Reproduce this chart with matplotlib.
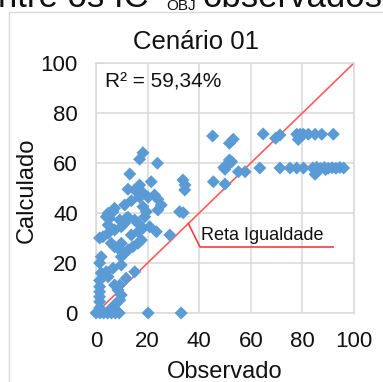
import matplotlib
matplotlib.use("Agg")
import matplotlib.pyplot as plt
from matplotlib.patches import Rectangle

plt.rcParams['font.family'] = ['Liberation Sans', 'DejaVu Sans']

title = "Cenário 01"
x_label = "Observado"
y_label = "Calculado"
r2_text = "R² = 59,34%"
line_label = "Reta Igualdade"
ticks = [0, 20, 40, 60, 80, 100]

observado = [
    0, 1.5, 3, 4.5, 6, 7.5, 9, 20.2, 33,
    1.4, 1.4, 1.4, 1.4, 1.4, 1.4, 2, 1.4, 2, 1.4,
    5.3, 6.6, 7.9, 9.2, 9.8, 8.5, 7.2, 9.2, 11.7, 15,
    4.7, 4, 6.6, 9.8,
    9.8, 11.1, 12.4, 14.3, 16.3, 17.6,
    9.2, 7.2, 5.9, 9.8,
    2.7, 4.7, 7.2, 9.8, 11.1, 9.2, 11.7,
    4.7, 5.3, 4.7, 6.6,
    13.7, 16.3, 18.2, 20.8, 23.4, 18.9, 19.5, 16.3, 15,
    24, 28.6, 32.4, 33.8,
    18.2, 16.9, 23.8, 13.1, 21.4, 12.4, 16.9, 15, 18.2, 16.9, 20.2, 22.7, 24, 25.3,
    13.7, 11.1, 18.2, 7.2, 4.0, 12.4,
    33.7, 34.4, 34.5,
    45.2, 51.7, 53.2, 64.8, 69.6, 71.3,
    51.7, 50.6, 49.5, 55.2, 57.8, 63.5, 52.6,
    45.5, 50, 50,
    77.8, 79.1, 80.4, 82.3, 84.9, 87.5, 92, 78.4,
    71.3, 75.2, 77.8, 80.4,
    84, 85.5, 87, 88.5, 90, 91.5, 93, 94.5, 96, 84.9, 86.5, 89,
]
calculado = [
    0, 0, 0, 0, 0, 0, 0, 0, 0,
    2, 4.5, 6.5, 8.5, 10.5, 13, 16, 20, 22.5, 30,
    1.2, 2.5, 3.9, 5.2, 7.2, 9.2, 11.2, 11.2, 13.9, 16.5,
    14.5, 16.5, 17.9, 19.2,
    22.5, 23.9, 25.2, 26.5, 27.9, 29.2,
    25.2, 26.5, 27.9, 27.9,
    30.5, 31.9, 33.2, 34.5, 35.9, 37.2, 37.9,
    35.2, 37.9, 39.9, 40.5,
    31.2, 32.5, 33.9, 34.5, 32.5, 38.5, 40.5, 35.9, 37.2,
    41.2, 31.2, 40.5, 40.1,
    64.1, 61.5, 59.9, 55.6, 52.5, 49.5, 51.2, 49.2, 48.1, 46.3, 46.3, 47.2, 45.5, 43.2,
    44.9, 43.2, 42.5, 41.9, 38.5, 38.3,
    53.2, 49.2, 51.2,
    70.8, 67.9, 69.5, 71.6, 69.9, 71.2,
    61.2, 58.8, 58.2, 56.5, 56.5, 58.0, 60.5,
    52.5, 51.6, 57.5,
    71.5, 71.5, 71.5, 71.5, 71.5, 71.5, 71.5, 69.4,
    58.0, 58.0, 58.0, 58.0,
    58.0, 58.3, 57.8, 58.2, 57.9, 58.1, 57.9, 58.2, 58.0, 55.5, 57.2, 57.4,
]
identidade = [0, 100]
callout_x = [35.8, 40.3, 91.9]
callout_y = [35.8, 26.4, 26.4]

W, H = 383, 382
fig = plt.figure(figsize=(W / 100, H / 100), dpi=100)
fig.patch.set_facecolor('white')

# chart area border (partially visible)
fig.patches.append(Rectangle((9 / W, -0.1), 1.2, 1 - 12 / H + 0.1,
                             transform=fig.transFigure, fill=False,
                             edgecolor='#D9D9D9', linewidth=1.0))

# clipped heading from the page above
fig.text(-2 / W, 1 - 7 / H, "ntre os IC", fontsize=25, color='#111111',
         va='baseline', ha='left')
fig.text(166 / W, 1 - 10 / H, "OBJ", fontsize=11, color='#111111',
         va='baseline', ha='left')
fig.text(203 / W, 1 - 7 / H, "observados", fontsize=25, color='#111111',
         va='baseline', ha='left')

ax = fig.add_axes([96 / W, 1 - 313 / H, 258 / W, 250 / H])
ax.set_xlim(0, 100)
ax.set_ylim(0, 100)
ax.set_xticks(ticks)
ax.set_yticks(ticks)
ax.grid(True, color='#D9D9D9', linewidth=1.1)
ax.set_axisbelow(True)
for s in ax.spines.values():
    s.set_color('#D9D9D9')
    s.set_linewidth(1.1)
ax.tick_params(length=0, labelsize=16, colors='#111111', pad=13)

ax.plot(identidade, identidade, color='#FF5B5B', linewidth=1.2, zorder=2)
ax.plot(callout_x, callout_y, color='#FF3B3B', linewidth=1.2, zorder=2)
ax.text(40.8, 31.2, line_label, fontsize=13, color='#111111', va='center', ha='left')

ax.scatter(observado, calculado, marker='D', s=44, color='#5B9BD5',
           edgecolors='none', zorder=3, clip_on=False)

ax.text(3.5, 92.5, r2_text, fontsize=15, color='#111111', va='center', ha='left')

fig.text(196 / W, 1 - 42 / H, title, fontsize=18.5, color='#111111',
         ha='center', va='center')
fig.text(225 / W, 1 - 372 / H, x_label, fontsize=17, color='#111111',
         ha='center', va='center')
fig.text(27 / W, 1 - 190 / H, y_label, fontsize=17, color='#111111',
         ha='center', va='center', rotation=90)

fig.savefig('out.png', dpi=100)
